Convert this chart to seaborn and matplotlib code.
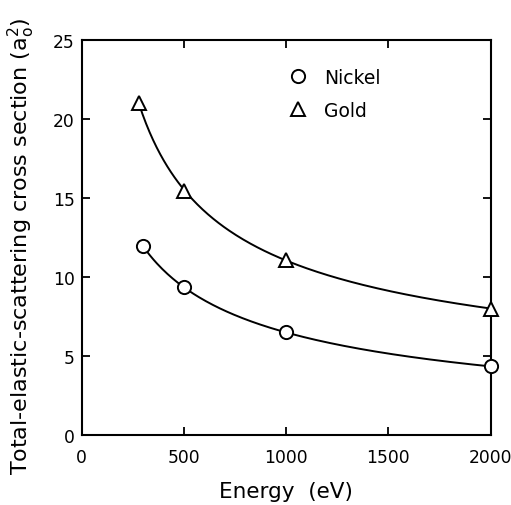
import numpy as np
import pandas as pd
import matplotlib
matplotlib.use('Agg')
import matplotlib.pyplot as plt
import seaborn as sns

# data
energy_ni = [300, 500, 1000, 2000]
sigma_ni = [11.95, 9.35, 6.5, 4.35]
energy_au = [280, 500, 1000, 2000]
sigma_au = [21.0, 15.45, 11.1, 8.0]

x_ticks = [0, 500, 1000, 1500, 2000]
y_ticks = [0, 5, 10, 15, 20, 25]

sns.set_style('ticks')
plt.rcParams['font.family'] = ['DejaVu Sans']
plt.rcParams['mathtext.default'] = 'regular'
plt.rcParams['text.color'] = 'black'
plt.rcParams['axes.labelcolor'] = 'black'
plt.rcParams['xtick.color'] = 'black'
plt.rcParams['ytick.color'] = 'black'

fig, ax = plt.subplots(figsize=(5.11, 5.06), dpi=100)
fig.subplots_adjust(left=0.16, right=0.96, bottom=0.138, top=0.919)


def smooth_fit(x, y):
    # quadratic fit in log-log space, drawn as a guide line through the points
    lx, ly = np.log(x), np.log(y)
    c = np.polyfit(lx, ly, 2)
    xs = np.linspace(min(x), max(x), 200)
    return pd.DataFrame({'x': xs, 'y': np.exp(np.polyval(c, np.log(xs)))})


for ex, sy in [(energy_ni, sigma_ni), (energy_au, sigma_au)]:
    fit = smooth_fit(np.array(ex, float), np.array(sy, float))
    sns.lineplot(data=fit, x='x', y='y', color='black', lw=1.4, ax=ax, zorder=2)

ax.plot(energy_ni, sigma_ni, 'o', ms=9.5, mfc='white', mec='black', mew=1.4,
        ls='none', clip_on=False, zorder=3, label='Nickel')
ax.plot(energy_au, sigma_au, '^', ms=10.5, mfc='white', mec='black', mew=1.4,
        ls='none', clip_on=False, zorder=3, label='Gold')

ax.set_xlim(0, 2000)
ax.set_ylim(0, 25)
ax.set_xticks(x_ticks)
ax.set_yticks(y_ticks)
ax.tick_params(direction='in', length=6, width=1.3, labelsize=12.3,
               top=True, right=True)
ax.tick_params(axis='x', pad=9)
ax.tick_params(axis='y', pad=5)
for s in ax.spines.values():
    s.set_linewidth(1.5)
    s.set_color('black')

ax.set_xlabel('Energy  (eV)', fontsize=15.5, labelpad=11)
ax.set_ylabel(r'Total-elastic-scattering cross section (a$_o^2$)',
              fontsize=16)
ax.yaxis.set_label_coords(-0.11, 0.48)

ax.legend(loc='upper left', bbox_to_anchor=(0.46, 0.972), frameon=False,
          fontsize=13.5, handletextpad=0.8, labelspacing=0.75,
          handlelength=1.2)

fig.savefig('out.png', dpi=100)
